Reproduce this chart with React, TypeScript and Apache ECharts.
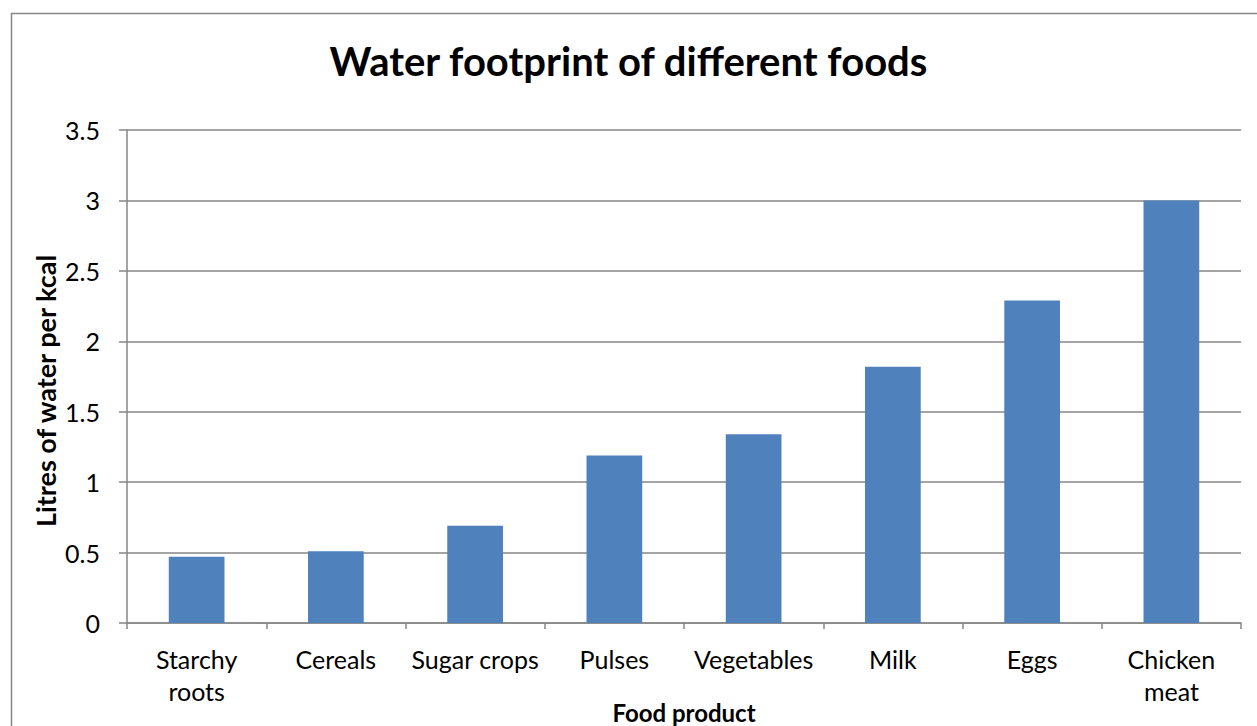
import React, { useEffect, useRef } from "react";
import * as echarts from "echarts";

const categories = ["Starchy\nroots", "Cereals", "Sugar crops", "Pulses", "Vegetables", "Milk", "Eggs", "Chicken\nmeat"];
const values = [0.47, 0.51, 0.69, 1.19, 1.34, 1.82, 2.29, 3.0];
const titleText = "Water footprint of different foods";
const yAxisTitle = "Litres of water per kcal";
const xAxisTitle = "Food product";

const FONT = "Lato, 'Open Sans', sans-serif";

export default function App() {
  const ref = useRef<HTMLDivElement>(null);
  useEffect(() => {
    if (!ref.current) return;
    const chart = echarts.init(ref.current, null, { renderer: "svg", width: 1257, height: 726 });
    chart.setOption({
      animation: false,
      backgroundColor: "#ffffff",
      title: {
        text: titleText,
        left: "center",
        top: 36,
        textStyle: { fontFamily: FONT, fontSize: 40, fontWeight: "bold", color: "#000" },
      },
      graphic: [
        {
          type: "rect",
          shape: { x: 11.5, y: 13.5, width: 1300, height: 800 },
          style: { fill: "none", stroke: "#868686", lineWidth: 1.5 },
          silent: true,
        },
        {
          type: "text",
          x: 45,
          y: 391,
          rotation: Math.PI / 2,
          style: {
            text: yAxisTitle,
            fontFamily: FONT,
            fontSize: 27,
            fontWeight: "bold",
            fill: "#000",
            align: "center",
            verticalAlign: "middle",
          },
          silent: true,
        },
        {
          type: "text",
          x: 684,
          y: 712,
          style: {
            text: xAxisTitle,
            fontFamily: FONT,
            fontSize: 24,
            fontWeight: "bold",
            fill: "#000",
            align: "center",
            verticalAlign: "middle",
          },
          silent: true,
        },
      ],
      grid: { left: 127, top: 130, width: 1114, height: 493 },
      xAxis: {
        type: "category",
        data: categories,
        axisLine: { lineStyle: { color: "#868686", width: 1.5 } },
        axisTick: { show: true, length: 6, lineStyle: { color: "#868686", width: 1.5 } },
        axisLabel: {
          fontFamily: FONT,
          fontSize: 25,
          color: "#000",
          margin: 20,
          lineHeight: 32,
          interval: 0,
        },
      },
      yAxis: {
        type: "value",
        min: 0,
        max: 3.5,
        interval: 0.5,
        axisLine: { show: true, lineStyle: { color: "#868686", width: 1.5 } },
        axisTick: { show: true, length: 8, lineStyle: { color: "#868686", width: 1.5 } },
        axisLabel: { fontFamily: FONT, fontSize: 25, color: "#000", margin: 27 },
        splitLine: { show: true, lineStyle: { color: "#868686", width: 1.5 } },
      },
      series: [
        {
          type: "bar",
          data: values,
          barWidth: "40%",
          itemStyle: { color: "#4f81bd" },
        },
      ],
    });
    return () => chart.dispose();
  }, []);
  return (
    <div
      ref={ref}
      style={{ position: "fixed", left: 0, top: 0, width: 1257, height: 726 }}
    />
  );
}
